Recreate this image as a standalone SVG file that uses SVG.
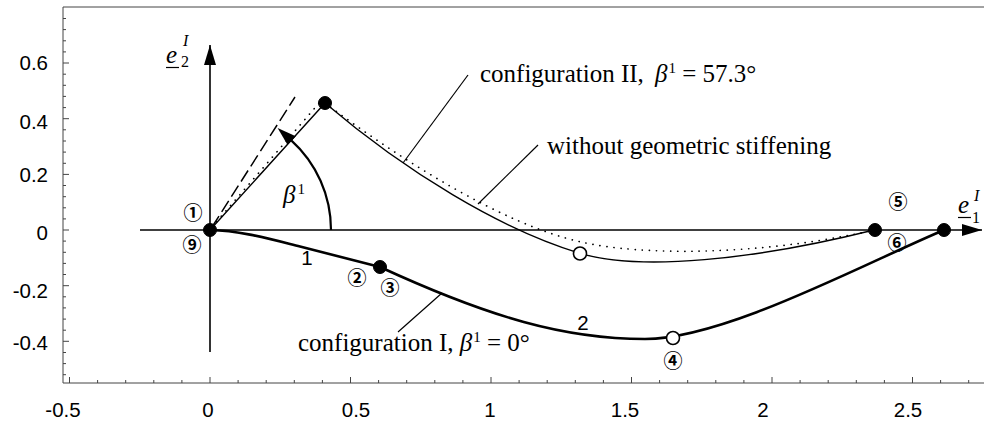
<svg xmlns="http://www.w3.org/2000/svg" width="984" height="423" viewBox="0 0 984 423">
<defs>
<style>
.frame{stroke:#444;stroke-width:1;fill:none}
.tk{stroke:#444;stroke-width:1}
.ax{stroke:#000;stroke-width:1.6;fill:none}
.c1{stroke:#000;stroke-width:2.6;fill:none;stroke-linejoin:round}
.c2{stroke:#000;stroke-width:1.4;fill:none}
.dot{stroke:#000;stroke-width:1.7;fill:none;stroke-dasharray:0.1 7;stroke-linecap:round}
.dash{stroke:#000;stroke-width:1.5;fill:none;stroke-dasharray:13 5}
.arc{stroke:#000;stroke-width:2.2;fill:none}
.lead{stroke:#000;stroke-width:1.2}
.num{font-family:"Liberation Sans",Arial,sans-serif;font-size:20.5px;fill:#000}
.ylab{text-anchor:end}
.xlab{text-anchor:middle}
.lbl{font-family:"Liberation Serif","Times New Roman",serif;font-size:25px;fill:#000}
.it{font-style:italic}
.sm{font-family:"Liberation Serif","Times New Roman",serif;font-size:16px;fill:#000}
.cn{font-family:"Noto Sans CJK JP","DejaVu Sans",sans-serif;font-size:19px;font-weight:bold;text-anchor:middle;fill:#000}
.full{fill:#000;stroke:#000;stroke-width:1}
.open{fill:#fff;stroke:#000;stroke-width:1.6}
</style>
<marker id="ah" viewBox="0 0 20 12" refX="20" refY="6" markerWidth="20" markerHeight="12" orient="auto" markerUnits="userSpaceOnUse">
<path d="M0,0 L20,6 L0,12 Z" fill="#000"/>
</marker>
<marker id="ah2" viewBox="0 0 19 12" refX="1" refY="6" markerWidth="19" markerHeight="12" orient="auto" markerUnits="userSpaceOnUse">
<path d="M0,0 L19,6 L0,12 Z" fill="#000"/>
</marker>
</defs>
<rect width="984" height="423" fill="#fff"/>

<g id="frame">
<path class="frame" d="M984,7 H63 V383 H984"/>
<path class="tk" d="M63,18.5h3M63,29.6h3M63,40.8h3M63,51.9h3M63,63h6M63,74.2h3M63,85.3h3M63,96.4h3M63,107.6h3M63,118.7h6M63,129.8h3M63,141h3M63,152.1h3M63,163.3h3M63,174.4h6M63,185.5h3M63,196.7h3M63,207.8h3M63,218.9h3M63,230h6M63,241.1h3M63,252.3h3M63,263.4h3M63,274.5h3M63,285.7h6M63,296.8h3M63,307.9h3M63,319.1h3M63,330.2h3M63,341.3h6M63,352.5h3M63,363.6h3M63,374.7h3"/>
<path class="tk" d="M69.5,383v-6M97.6,383v-3M125.7,383v-3M153.8,383v-3M181.9,383v-3M210,383v-6M238.1,383v-3M266.2,383v-3M294.3,383v-3M322.4,383v-3M350.5,383v-6M378.6,383v-3M406.7,383v-3M434.8,383v-3M462.9,383v-3M491,383v-6M519.1,383v-3M547.2,383v-3M575.3,383v-3M603.4,383v-3M631.5,383v-6M659.6,383v-3M687.7,383v-3M715.8,383v-3M743.9,383v-3M772,383v-6M800.1,383v-3M828.2,383v-3M856.3,383v-3M884.4,383v-3M912.5,383v-6M940.6,383v-3M968.7,383v-3"/>
<text class="num ylab" x="48" y="70">0.6</text>
<text class="num ylab" x="48" y="129">0.4</text>
<text class="num ylab" x="48" y="182">0.2</text>
<text class="num ylab" x="48" y="240">0</text>
<text class="num ylab" x="48" y="298">-0.2</text>
<text class="num ylab" x="48" y="350">-0.4</text>
<text class="num xlab" x="63" y="417">-0.5</text>
<text class="num xlab" x="208" y="417">0</text>
<text class="num xlab" x="356" y="417">0.5</text>
<text class="num xlab" x="490" y="417">1</text>
<text class="num xlab" x="625" y="417">1.5</text>
<text class="num xlab" x="763" y="417">2</text>
<text class="num xlab" x="908" y="417">2.5</text>
</g>

<g id="axes">
<line class="ax" x1="210" y1="352" x2="210" y2="45" marker-end="url(#ah)"/>
<line class="ax" x1="140" y1="230" x2="982" y2="230" marker-end="url(#ah)"/>
<text class="lbl it" x="166" y="63" font-size="22">e</text>
<line class="lead" x1="166" y1="67.5" x2="179" y2="67.5"/>
<text class="sm" x="181" y="67">2</text>
<text class="sm it" x="183" y="46">I</text>
<text class="lbl it" x="958" y="213" font-size="22">e</text>
<line class="lead" x1="958" y1="217.5" x2="971" y2="217.5"/>
<text class="sm" x="972" y="223">1</text>
<text class="sm it" x="974" y="201">I</text>
</g>

<g id="connectors">
<path id="config-I" class="c1" d="M210,230 C240,230.5 270,239 300,246.5 C330,254 355,260.5 380,267 C490,317.6 565,339 645,339 C725,339 864,263.6 944,230"/>
<path id="config-II" class="c2" d="M210,230 L325,103 C405,171 500,229.3 580,253.3 C640,271.3 754,260 874,230"/>
<path id="no-stiffening" class="dot" d="M212,227 L320,102 M325,103 C405,163 505,225 580,241.7 C640,256 760,256 874,230"/>
<line id="beta-dir" class="dash" x1="212" y1="227" x2="295" y2="97"/>
<path id="beta-arc" class="arc" d="M331,230 A121,121 0 0 0 291,140.1" marker-end="url(#ah2)"/>
<line class="lead" x1="468" y1="75" x2="403" y2="163"/>
<line class="lead" x1="538" y1="145" x2="478" y2="204"/>
<line class="lead" x1="442" y1="293" x2="398" y2="332"/>
</g>

<g id="node-1-9"><circle class="full" cx="210" cy="230" r="6.5"/><text class="cn" x="193" y="220">①</text><text class="cn" x="192" y="252">⑨</text></g>
<g id="node-2-3"><circle class="full" cx="380" cy="267" r="6.5"/><text class="cn" x="357" y="285">②</text><text class="cn" x="390" y="295">③</text></g>
<g id="node-4"><circle class="open" cx="673" cy="338" r="6.5"/><text class="cn" x="673" y="368">④</text></g>
<g id="node-5"><circle class="full" cx="875" cy="230" r="6.5"/><text class="cn" x="898" y="209">⑤</text></g>
<g id="node-6"><circle class="full" cx="944" cy="230" r="6.5"/><text class="cn" x="897" y="250">⑥</text></g>
<g id="node-top"><circle class="full" cx="325" cy="103" r="6.5"/></g>
<g id="node-mid"><circle class="open" cx="580" cy="253.5" r="6.5"/></g>

<g id="labels">
<text class="lbl it" x="283" y="203">β<tspan font-style="normal" font-size="15" dy="-9" dx="2">1</tspan></text>
<text class="num xlab" x="307" y="265">1</text>
<text class="num xlab" x="583" y="330">2</text>
<text class="lbl" x="480" y="82">configuration II, <tspan class="it" x="655">β</tspan><tspan font-size="15" dy="-9" dx="1">1</tspan><tspan dy="9"> = 57.3°</tspan></text>
<text class="lbl" x="547" y="154">without geometric stiffening</text>
<text class="lbl" x="298" y="351">configuration I, <tspan class="it">β</tspan><tspan font-size="15" dy="-9" dx="1">1</tspan><tspan dy="9"> = 0°</tspan></text>
</g>
</svg>
